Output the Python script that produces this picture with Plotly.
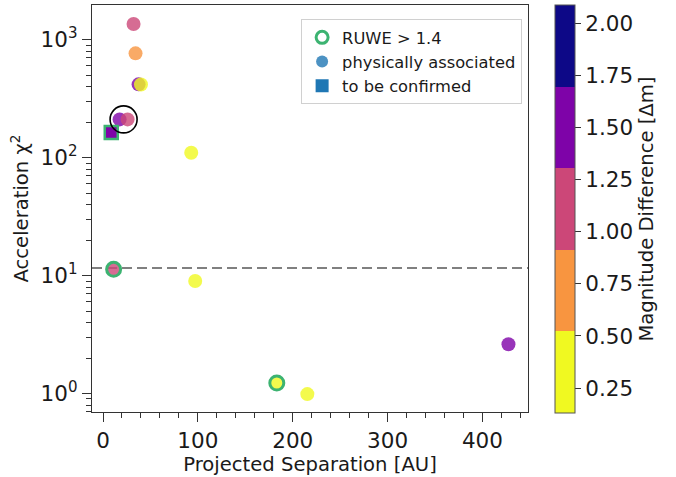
import plotly.graph_objects as go

# ---- data ----
sep_assoc = [32.2, 34.3, 37.5, 40.0, 17.5, 25.9, 93.0, 97.2, 11.2, 183.2, 215.4, 427.4]
chi2_assoc = [1358, 766, 418, 417, 211, 211, 110, 9.0, 11.3, 1.23, 0.99, 2.62]
dm_assoc = [1.1, 0.7, 1.5, 0.3, 1.5, 1.1, 0.3, 0.3, 1.1, 0.3, 0.3, 1.5]
ruwe_assoc = [False, False, False, False, False, False, False, False, True, True, False, False]

sep_confirm = [8.7]
chi2_confirm = [163]
dm_confirm = [1.5]

highlight_sep = [21.7]
highlight_chi2 = [211]

chi2_threshold = 11.6

x_range = [-11.6, 448]
y_log_range = [-0.156, 3.294]

y_major = [1, 10, 100, 1000]
y_major_text = ["10<sup>0</sup>", "10<sup>1</sup>", "10<sup>2</sup>", "10<sup>3</sup>"]
y_minor = [m * 10 ** e for e in range(-1, 4) for m in range(2, 10)]

cb_ticks = [0.25, 0.50, 0.75, 1.00, 1.25, 1.50, 1.75, 2.00]
cmin, cmax = 0.13, 2.09
bin_colors = ["#f0f921", "#f89540", "#cc4778", "#7e03a8", "#0d0887"]

# discrete colorscale
cs = []
n = len(bin_colors)
for i, c in enumerate(bin_colors):
    cs.append([i / n, c])
    cs.append([(i + 1) / n, c])

FONT = "DejaVu Sans"
TXT = "#1a1a1a"
GREEN = "#3cb371"
TICK_FS = 21.5
TITLE_FS = 19.6

fig = go.Figure()

# threshold line
fig.add_trace(go.Scatter(x=x_range, y=[chi2_threshold, chi2_threshold], mode="lines",
                         line=dict(color="#808080", width=2, dash="10px,5px"),
                         showlegend=False, hoverinfo="skip"))

# physically associated
fig.add_trace(go.Scatter(x=sep_assoc, y=chi2_assoc, mode="markers", showlegend=False,
                         marker=dict(size=14, color=dm_assoc, coloraxis="coloraxis",
                                     opacity=0.8, line=dict(width=0))))

# to be confirmed
fig.add_trace(go.Scatter(x=sep_confirm, y=chi2_confirm, mode="markers", showlegend=False,
                         marker=dict(symbol="square", size=13, color=dm_confirm, coloraxis="coloraxis",
                                     line=dict(width=2.5, color=GREEN))))

# RUWE rings
rx = [s for s, r in zip(sep_assoc, ruwe_assoc) if r]
ry = [c for c, r in zip(chi2_assoc, ruwe_assoc) if r]
fig.add_trace(go.Scatter(x=rx, y=ry, mode="markers", showlegend=False,
                         marker=dict(symbol="circle-open", size=14, color=GREEN,
                                     line=dict(width=3, color=GREEN))))

# highlight ring
fig.add_trace(go.Scatter(x=highlight_sep, y=highlight_chi2, mode="markers", showlegend=False,
                         marker=dict(symbol="circle-open", size=27,
                                     line=dict(width=1.6, color="black"), color="black")))

# invisible trace holding the minor-tick overlay axis
fig.add_trace(go.Scatter(x=[None], y=[None], yaxis="y2", showlegend=False, hoverinfo="skip"))

# legend entries
fig.add_trace(go.Scatter(x=[None], y=[None], mode="markers", name="RUWE > 1.4",
                         marker=dict(symbol="circle-open", size=12, color=GREEN,
                                     line=dict(width=3, color=GREEN))))
fig.add_trace(go.Scatter(x=[None], y=[None], mode="markers", name="physically associated",
                         marker=dict(symbol="circle", size=12, color="#1f77b4", opacity=0.8)))
fig.add_trace(go.Scatter(x=[None], y=[None], mode="markers", name="to be confirmed",
                         marker=dict(symbol="square", size=13, color="#1f77b4")))

axis_common = dict(showline=True, linecolor="#333333", linewidth=1.3, mirror=True,
                   ticks="outside", tickcolor="#333333", tickwidth=1.3, ticklen=9,
                   showgrid=False, zeroline=False,
                   tickfont=dict(family=FONT, size=TICK_FS, color=TXT))

fig.update_layout(
    width=676, height=477,
    margin=dict(l=92, r=148, t=5, b=65, pad=0),
    paper_bgcolor="white", plot_bgcolor="white",
    font=dict(family=FONT, color=TXT),
    xaxis=dict(range=x_range, tickmode="linear", tick0=0, dtick=100,
               minor=dict(dtick=20, ticks="outside", ticklen=5, tickcolor="#333333", tickwidth=1.1),
               title=dict(text="Projected Separation [AU]", font=dict(family=FONT, size=TITLE_FS, color=TXT), standoff=0),
               **axis_common),
    yaxis=dict(type="log", range=y_log_range, tickvals=y_major, ticktext=y_major_text,
               title=dict(text="Acceleration χ<sup>2</sup>", font=dict(family=FONT, size=TITLE_FS, color=TXT), standoff=6),
               **axis_common),
    yaxis2=dict(type="log", range=y_log_range, overlaying="y", side="left", anchor="x",
                tickvals=y_minor, showticklabels=False, ticks="outside", ticklen=5,
                tickcolor="#333333", tickwidth=1.1, showline=False, showgrid=False, zeroline=False),
    coloraxis=dict(colorscale=cs, cmin=cmin, cmax=cmax,
                   colorbar=dict(x=1.0627, xanchor="left", xref="paper", y=1, yanchor="top", len=1.003, lenmode="fraction",
                                 thickness=20, outlinewidth=1, outlinecolor="#555555",
                                 tickvals=cb_ticks, ticktext=[f"{t:.2f}" for t in cb_ticks],
                                 ticks="outside", ticklen=6, tickcolor="#333333", tickwidth=1.2,
                                 tickfont=dict(family=FONT, size=TICK_FS, color=TXT),
                                 title=dict(text="Magnitude Difference [Δm]", side="right",
                                            font=dict(family=FONT, size=TITLE_FS, color=TXT)),
                                 ypad=0, xpad=0)),
    legend=dict(x=0.9865, xanchor="right", y=0.965, yanchor="top",
                bgcolor="white", bordercolor="#d0d0d0", borderwidth=1,
                font=dict(family=FONT, size=16.3, color=TXT), itemwidth=30,
                tracegroupgap=0),
)

fig.write_html("out.html")
